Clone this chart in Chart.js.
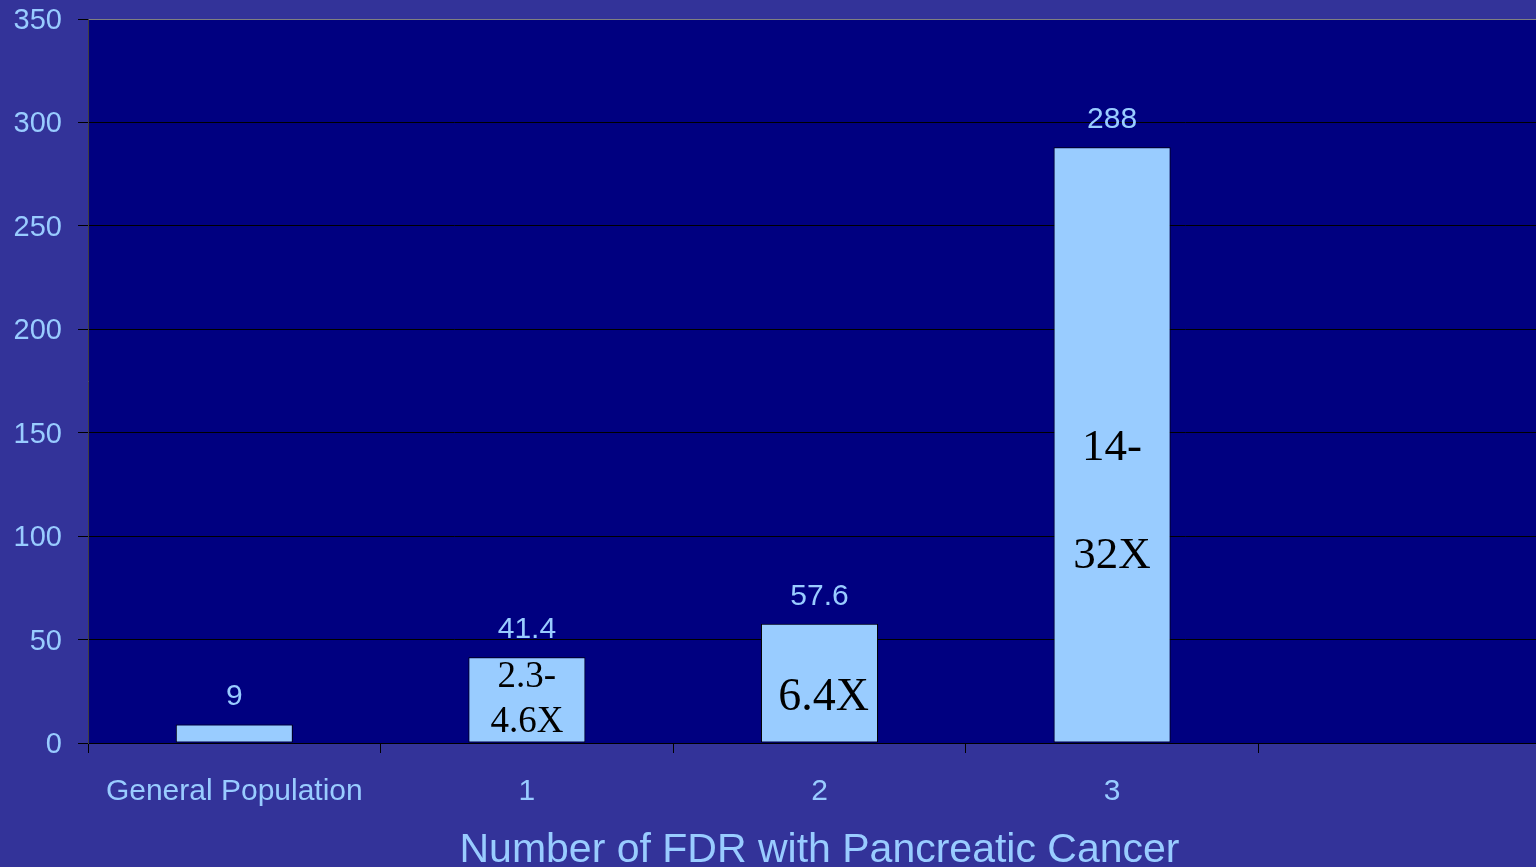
<!DOCTYPE html>
<html>
<head>
<meta charset="utf-8">
<script src="https://cdn.jsdelivr.net/npm/chart.js@4/dist/chart.umd.min.js"></script>
<style>
  html, body { margin: 0; padding: 0; background: #333399; overflow: hidden; }
  canvas { display: block; }
</style>
</head>
<body>
<canvas id="chart" width="1551" height="880"></canvas>
<script>
const categories = ['General Population', '1', '2', '3', ''];
const riskValues = [9, 41.4, 57.6, 288, null];
const yTicks = [0, 50, 100, 150, 200, 250, 300, 350];
const riskNotes = [null, ['2.3-', '4.6X'], ['6.4X'], ['14-', '32X'], null];

const labelColor = '#99CCFF';
const sans = '"Liberation Sans", Arial, sans-serif';
const serif = '"Liberation Serif", "Times New Roman", serif';

// plot area fill + outline, like the old ppt chart
const plotBackground = {
    id: 'plotBackground',
    beforeDraw(chart) {
        const {ctx, chartArea: a} = chart;
        ctx.save();
        ctx.fillStyle = '#000080';
        ctx.fillRect(a.left, a.top, a.right - a.left, a.bottom - a.top);
        ctx.strokeStyle = '#808080';
        ctx.lineWidth = 1;
        ctx.strokeRect(a.left + 0.5, a.top + 0.5, a.right - a.left, a.bottom - a.top);
        ctx.restore();
    }
};

// value on top of each bar + the "x times" notes inside
const barText = {
    id: 'barText',
    afterDatasetsDraw(chart, args, opts) {
        const {ctx} = chart;
        const meta = chart.getDatasetMeta(0);
        const yScale = chart.scales.y;
        ctx.save();
        ctx.textAlign = 'center';
        ctx.textBaseline = 'alphabetic';
        meta.data.forEach((bar, i) => {
            const v = riskValues[i];
            if (v == null) return;
            ctx.font = '30px ' + sans;
            ctx.fillStyle = labelColor;
            ctx.fillText(String(v), bar.x, bar.y - 19);

            const note = riskNotes[i];
            if (!note) return;
            const place = opts.notes[i];
            ctx.font = place.size + 'px ' + serif;
            ctx.fillStyle = '#000';
            note.forEach((line, j) => {
                ctx.fillText(line, bar.x + (place.dx || 0), yScale.getPixelForValue(place.at[j]));
            });
        });
        ctx.restore();
    }
};

new Chart(document.getElementById('chart'), {
    type: 'bar',
    data: {
        labels: categories,
        datasets: [{
            data: riskValues,
            backgroundColor: '#99CCFF',
            borderColor: '#000',
            borderWidth: 1,
            borderSkipped: false,
            categoryPercentage: 1,
            barPercentage: 0.4
        }]
    },
    options: {
        responsive: false,
        animation: false,
        devicePixelRatio: 1,
        layout: {padding: {top: 19, left: 14, right: 0, bottom: 0}},
        plugins: {
            legend: {display: false},
            tooltip: {enabled: false},
            barText: {
                notes: {
                    1: {size: 37, at: [27.1, 5.3]},
                    2: {size: 46, at: [16.0], dx: 4},
                    3: {size: 45, at: [136.8, 84.6]}
                }
            }
        },
        scales: {
            x: {
                afterFit(scale) {
                    scale.height = 137;
                    scale.paddingLeft = 0;
                    scale.paddingRight = 0;
                },
                grid: {
                    drawOnChartArea: false,
                    drawTicks: true,
                    tickLength: 10,
                    tickColor: '#000',
                    color: '#000'
                },
                border: {color: '#000'},
                ticks: {
                    color: labelColor,
                    font: {family: sans, size: 30},
                    padding: 21,
                    maxRotation: 0,
                    autoSkip: false
                },
                title: {
                    display: true,
                    text: 'Number of FDR with Pancreatic Cancer',
                    color: labelColor,
                    font: {family: sans, size: 41},
                    padding: {top: 14, bottom: 5}
                }
            },
            y: {
                min: 0,
                max: 350,
                afterBuildTicks(scale) {
                    scale.ticks = yTicks.map(v => ({value: v}));
                },
                afterFit(scale) {
                    scale.width = 74;
                    scale.paddingTop = 0;
                    scale.paddingBottom = 0;
                },
                grid: {
                    color: ctx => ctx.tick && ctx.tick.value === 350 ? '#808080' : '#000',
                    tickColor: '#000',
                    tickLength: 10
                },
                border: {color: '#404040'},
                ticks: {
                    color: labelColor,
                    font: {family: sans, size: 29},
                    padding: 16,
                    labelOffset: 2
                }
            }
        }
    },
    plugins: [plotBackground, barText]
});
</script>
</body>
</html>
